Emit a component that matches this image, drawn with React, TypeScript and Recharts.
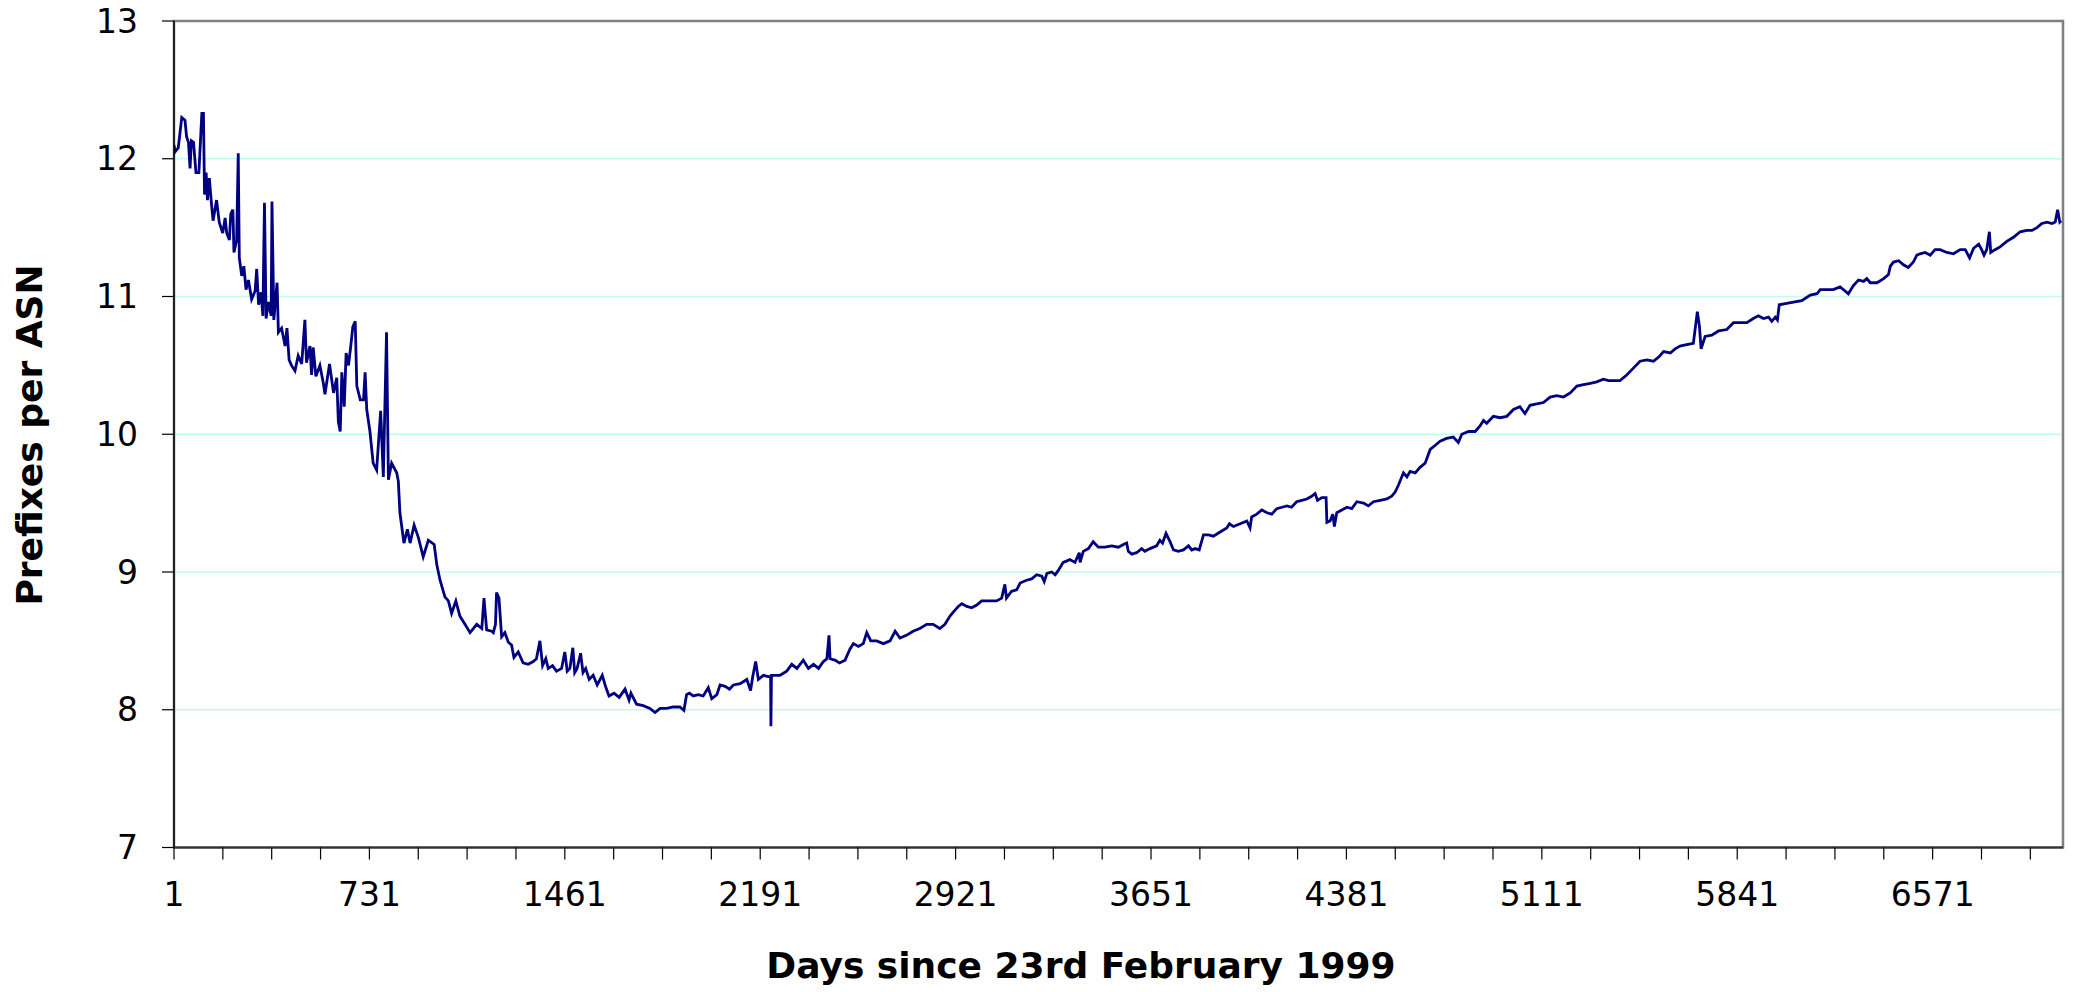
import React from 'react';
import { LineChart, Line, XAxis, YAxis, CartesianGrid, ReferenceArea, Label } from 'recharts';

const days: number[] = [
  1, 5, 17, 30, 42, 48, 55, 61, 66, 74, 83, 94, 105, 111, 115, 121, 126, 133, 142, 147,
  160, 170, 183, 192, 198, 208, 213, 221, 225, 235, 241, 245, 254, 262, 270, 279, 291, 304, 310, 317,
  326, 333, 339, 345, 354, 364, 367, 374, 386, 391, 403, 416, 423, 431, 440, 453, 465, 478, 490, 496,
  509, 515, 521, 531, 546, 559, 565, 582, 597, 609, 615, 622, 628, 637, 644, 653, 662, 669, 678, 684,
  697, 709, 715, 721, 733, 745, 758, 773, 783, 795, 802, 814, 833, 839, 845, 860, 873, 883, 898, 914,
  932, 951, 973, 983, 995, 1013, 1026, 1038, 1054, 1069, 1088, 1107, 1132, 1151, 1159, 1169, 1188, 1194, 1202, 1206,
  1215, 1225, 1237, 1250, 1262, 1271, 1287, 1305, 1324, 1343, 1355, 1368, 1378, 1390, 1399, 1415, 1430, 1449, 1461, 1470,
  1480, 1491, 1498, 1507, 1520, 1529, 1539, 1552, 1567, 1582, 1601, 1613, 1626, 1645, 1664, 1686, 1701, 1708, 1729, 1754,
  1779, 1798, 1817, 1842, 1866, 1891, 1906, 1916, 1926, 1941, 1960, 1978, 1997, 2010, 2029, 2041, 2060, 2076, 2091, 2116,
  2141, 2155, 2163, 2174, 2184, 2203, 2221, 2230, 2231, 2233, 2240, 2265, 2290, 2309, 2328, 2352, 2371, 2390, 2409, 2427,
  2440, 2448, 2452, 2470, 2487, 2508, 2526, 2539, 2558, 2576, 2589, 2604, 2626, 2651, 2676, 2695, 2713, 2737, 2762, 2787,
  2813, 2837, 2862, 2881, 2900, 2913, 2931, 2944, 2963, 2981, 3000, 3018, 3043, 3074, 3093, 3105, 3111, 3130, 3149, 3162,
  3186, 3205, 3224, 3243, 3252, 3262, 3280, 3293, 3304, 3323, 3348, 3367, 3383, 3386, 3398, 3417, 3435, 3454, 3479, 3504,
  3529, 3548, 3560, 3566, 3579, 3597, 3616, 3628, 3647, 3672, 3684, 3694, 3707, 3722, 3735, 3753, 3772, 3791, 3803, 3816,
  3831, 3847, 3866, 3884, 3909, 3934, 3944, 3959, 3984, 4009, 4021, 4027, 4046, 4065, 4084, 4102, 4121, 4140, 4159, 4176,
  4195, 4214, 4233, 4251, 4264, 4273, 4289, 4305, 4308, 4320, 4330, 4336, 4345, 4364, 4383, 4401, 4420, 4445, 4463, 4482,
  4507, 4532, 4550, 4563, 4575, 4594, 4607, 4619, 4638, 4656, 4675, 4694, 4713, 4731, 4755, 4780, 4799, 4812, 4837, 4862,
  4880, 4893, 4905, 4930, 4955, 4980, 5005, 5029, 5048, 5067, 5092, 5117, 5142, 5167, 5192, 5217, 5242, 5267, 5292, 5316,
  5341, 5360, 5378, 5403, 5428, 5453, 5478, 5503, 5528, 5547, 5566, 5591, 5609, 5627, 5652, 5677, 5692, 5700, 5706, 5721,
  5746, 5771, 5802, 5827, 5852, 5877, 5901, 5920, 5939, 5958, 5970, 5983, 5991, 5998, 6026, 6051, 6082, 6114, 6139, 6151,
  6175, 6200, 6225, 6244, 6256, 6275, 6294, 6313, 6325, 6338, 6363, 6388, 6406, 6413, 6425, 6444, 6462, 6480, 6499, 6512,
  6524, 6543, 6562, 6580, 6599, 6624, 6649, 6674, 6693, 6709, 6724, 6743, 6754, 6763, 6773, 6783, 6788, 6804, 6823, 6848,
  6873, 6898, 6923, 6942, 6961, 6979, 6998, 7017, 7029, 7038, 7046, 7051,
];

const prefixesPerAsn: number[] = [
  12.1, 12.05, 12.08, 12.3, 12.28, 12.16, 12.12, 11.93, 12.13, 12.12, 11.9, 11.9, 12.33, 12.33, 11.74, 11.9, 11.7, 11.86, 11.65, 11.55,
  11.7, 11.54, 11.46, 11.57, 11.46, 11.41, 11.6, 11.63, 11.32, 11.41, 12.04, 11.28, 11.15, 11.22, 11.05, 11.12, 10.98, 11.04, 11.2, 10.94,
  11.03, 10.86, 11.68, 10.84, 10.96, 10.86, 11.69, 10.83, 11.1, 10.74, 10.77, 10.64, 10.77, 10.54, 10.5, 10.46, 10.57, 10.51, 10.83, 10.52,
  10.64, 10.43, 10.63, 10.42, 10.5, 10.37, 10.29, 10.51, 10.3, 10.41, 10.09, 10.02, 10.45, 10.2, 10.59, 10.5, 10.65, 10.78, 10.82, 10.35,
  10.25, 10.25, 10.45, 10.18, 10.02, 9.79, 9.74, 10.17, 9.69, 10.74, 9.67, 9.79, 9.72, 9.66, 9.43, 9.21, 9.31, 9.21, 9.34, 9.25,
  9.11, 9.23, 9.2, 9.05, 8.94, 8.82, 8.79, 8.7, 8.79, 8.68, 8.62, 8.56, 8.62, 8.59, 8.81, 8.58, 8.57, 8.56, 8.62, 8.85,
  8.81, 8.53, 8.56, 8.49, 8.47, 8.38, 8.42, 8.34, 8.33, 8.35, 8.37, 8.5, 8.32, 8.37, 8.3, 8.32, 8.28, 8.3, 8.42, 8.28,
  8.3, 8.45, 8.27, 8.3, 8.41, 8.27, 8.3, 8.22, 8.25, 8.18, 8.25, 8.17, 8.1, 8.12, 8.09, 8.15, 8.07, 8.12, 8.04, 8.03,
  8.01, 7.98, 8.01, 8.01, 8.02, 8.02, 7.995, 8.11, 8.12, 8.1, 8.11, 8.1, 8.16, 8.08, 8.11, 8.18, 8.17, 8.15, 8.18, 8.19,
  8.22, 8.14, 8.24, 8.35, 8.22, 8.25, 8.24, 8.24, 7.88, 8.25, 8.25, 8.25, 8.28, 8.33, 8.3, 8.36, 8.3, 8.33, 8.3, 8.35,
  8.37, 8.54, 8.37, 8.36, 8.34, 8.36, 8.44, 8.48, 8.46, 8.48, 8.56, 8.5, 8.5, 8.48, 8.5, 8.57, 8.52, 8.54, 8.57, 8.59,
  8.62, 8.62, 8.59, 8.62, 8.68, 8.71, 8.75, 8.77, 8.75, 8.74, 8.76, 8.79, 8.79, 8.79, 8.81, 8.91, 8.81, 8.86, 8.87, 8.92,
  8.94, 8.95, 8.98, 8.97, 8.93, 8.99, 9.0, 8.98, 9.01, 9.07, 9.09, 9.07, 9.14, 9.07, 9.15, 9.17, 9.22, 9.18, 9.18, 9.19,
  9.18, 9.2, 9.21, 9.15, 9.13, 9.14, 9.17, 9.15, 9.17, 9.19, 9.23, 9.21, 9.28, 9.22, 9.16, 9.15, 9.16, 9.19, 9.16, 9.17,
  9.16, 9.27, 9.27, 9.26, 9.29, 9.32, 9.35, 9.33, 9.35, 9.37, 9.32, 9.4, 9.42, 9.45, 9.43, 9.42, 9.46, 9.47, 9.48, 9.47,
  9.51, 9.52, 9.53, 9.55, 9.57, 9.52, 9.54, 9.54, 9.36, 9.37, 9.42, 9.33, 9.43, 9.45, 9.47, 9.46, 9.51, 9.5, 9.48, 9.51,
  9.52, 9.53, 9.55, 9.58, 9.63, 9.72, 9.69, 9.73, 9.72, 9.76, 9.79, 9.89, 9.92, 9.95, 9.97, 9.98, 9.94, 10.0, 10.02, 10.02,
  10.06, 10.1, 10.08, 10.13, 10.12, 10.13, 10.18, 10.2, 10.15, 10.21, 10.22, 10.23, 10.27, 10.28, 10.27, 10.3, 10.35, 10.36, 10.37, 10.38,
  10.4, 10.39, 10.39, 10.39, 10.43, 10.48, 10.53, 10.54, 10.53, 10.56, 10.6, 10.59, 10.62, 10.64, 10.65, 10.66, 10.89, 10.78, 10.62, 10.71,
  10.72, 10.75, 10.76, 10.81, 10.81, 10.81, 10.84, 10.86, 10.84, 10.85, 10.82, 10.85, 10.83, 10.94, 10.95, 10.96, 10.97, 11.01, 11.02, 11.05,
  11.05, 11.05, 11.07, 11.04, 11.02, 11.08, 11.12, 11.11, 11.13, 11.1, 11.1, 11.13, 11.16, 11.22, 11.25, 11.26, 11.23, 11.21, 11.25, 11.3,
  11.31, 11.32, 11.3, 11.34, 11.34, 11.32, 11.31, 11.34, 11.34, 11.28, 11.35, 11.38, 11.34, 11.3, 11.34, 11.47, 11.32, 11.34, 11.36, 11.4,
  11.43, 11.47, 11.48, 11.48, 11.5, 11.53, 11.54, 11.53, 11.54, 11.63, 11.54, 11.55,
];

const xTickMarks: number[] = [
  1, 183.5, 366, 548.5, 731, 913.5, 1096, 1278.5, 1461, 1643.5, 1826, 2008.5, 2191, 2373.5, 2556, 2738.5,
  2921, 3103.5, 3286, 3468.5, 3651, 3833.5, 4016, 4198.5, 4381, 4563.5, 4746, 4928.5, 5111, 5293.5, 5476,
  5658.5, 5841, 6023.5, 6206, 6388.5, 6571, 6753.5, 6936,
];
const xTickLabels: number[] = [1, 731, 1461, 2191, 2921, 3651, 4381, 5111, 5841, 6571];
const yTicks: number[] = [7, 8, 9, 10, 11, 12, 13];

const xTitle = 'Days since 23rd February 1999';
const yTitle = 'Prefixes per ASN';

const data = days.map((d, i) => ({ day: d, value: prefixesPerAsn[i] }));

const FONT = '"DejaVu Sans", Verdana, sans-serif';

const XTick = (props: any) => {
  const { x, y, payload } = props;
  if (!xTickLabels.includes(payload.value)) return <g />;
  return (
    <text x={x} y={y} dy="0.71em" textAnchor="middle" fontFamily={FONT} fontSize={33} fill="#000">
      {payload.value}
    </text>
  );
};

const XTitle = () => (
  <text x={1081} y={978} textAnchor="middle" fontFamily={FONT} fontSize={36} fontWeight="bold" fill="#000">
    {xTitle}
  </text>
);

const YTitle = () => (
  <text
    x={29}
    y={435}
    transform="rotate(-90, 29, 435)"
    textAnchor="middle"
    dominantBaseline="central"
    fontFamily={FONT}
    fontSize={36}
    fontWeight="bold"
    fill="#000"
  >
    {yTitle}
  </text>
);

export default function App() {
  return (
    <div style={{ position: 'absolute', left: 0, top: 0, width: 2076, height: 992, background: '#fff' }}>
      <LineChart width={2076} height={992} data={data} margin={{ top: 21, right: 13, bottom: 0, left: 0 }}>
        <CartesianGrid vertical={false} stroke="#c2fbee" strokeWidth={1.5} />
        <ReferenceArea x1={1} x2={7058} y1={7} y2={13} fill="none" stroke="#808080" strokeWidth={2.5} ifOverflow="visible" />
        <XAxis
          type="number"
          dataKey="day"
          domain={[1, 7058]}
          ticks={xTickMarks}
          interval={0}
          allowDataOverflow
          height={144.5}
          tickSize={12}
          tickMargin={23}
          tick={<XTick />}
          tickLine={{ stroke: '#000', strokeWidth: 1.2 }}
          axisLine={{ stroke: '#333', strokeWidth: 2 }}
        >
          <Label content={<XTitle />} />
        </XAxis>
        <YAxis
          type="number"
          domain={[7, 13]}
          ticks={yTicks}
          interval={0}
          width={174}
          tickSize={12}
          tickMargin={24}
          tick={{ fontFamily: FONT, fontSize: 33, fill: '#000' }}
          tickLine={{ stroke: '#000', strokeWidth: 1.2 }}
          axisLine={{ stroke: '#000', strokeWidth: 1.5 }}
        >
          <Label content={<YTitle />} />
        </YAxis>
        <Line
          type="linear"
          dataKey="value"
          stroke="#000080"
          strokeWidth={2.8}
          dot={false}
          isAnimationActive={false}
        />
      </LineChart>
    </div>
  );
}
